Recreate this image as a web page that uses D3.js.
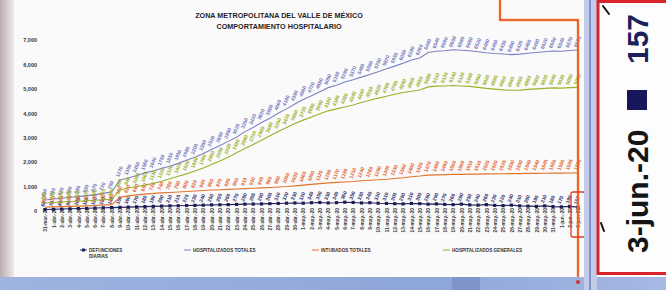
<!DOCTYPE html>
<html>
<head>
<meta charset="utf-8">
<script src="https://cdn.jsdelivr.net/npm/d3@7"></script>
<style>
    body { margin: 0; background: #fff; }
    svg { display: block; font-family: "Liberation Sans", Arial, sans-serif; }
</style>
</head>
<body>
<div id="chart"></div>
<script>
const dim = {
    width: 666,
    height: 290
}

// data
const dates = [
    '31-mar.-20',
    '1-abr.-20','2-abr.-20','3-abr.-20','4-abr.-20','5-abr.-20','6-abr.-20','7-abr.-20','8-abr.-20','9-abr.-20','10-abr.-20',
    '11-abr.-20','12-abr.-20','13-abr.-20','14-abr.-20','15-abr.-20','16-abr.-20','17-abr.-20','18-abr.-20','19-abr.-20','20-abr.-20',
    '21-abr.-20','22-abr.-20','23-abr.-20','24-abr.-20','25-abr.-20','26-abr.-20','27-abr.-20','28-abr.-20','29-abr.-20','30-abr.-20',
    '1-may.-20','2-may.-20','3-may.-20','4-may.-20','5-may.-20','6-may.-20','7-may.-20','8-may.-20','9-may.-20','10-may.-20',
    '11-may.-20','12-may.-20','13-may.-20','14-may.-20','15-may.-20','16-may.-20','17-may.-20','18-may.-20','19-may.-20','20-may.-20',
    '21-may.-20','22-may.-20','23-may.-20','24-may.-20','25-may.-20','26-may.-20','27-may.-20','28-may.-20','29-may.-20','30-may.-20',
    '31-may.-20','1-jun.-20','2-jun.-20','3-jun.-20'
]

const hospTotales = [
    450, 490, 520, 560, 590, 630, 670, 720, 780, 1270,
    1350, 1450, 1560, 1640, 1750, 1830, 1950, 2080, 2200, 2350,
    2520, 2680, 2850, 3020, 3250, 3420, 3620, 3800, 4000, 4180,
    4380, 4560, 4720, 4880, 5050, 5150, 5280, 5370, 5480, 5590,
    5700, 5820, 5930, 6050, 6180, 6260, 6490, 6540, 6560, 6600,
    6580, 6560, 6520, 6480, 6450, 6430, 6400, 6420, 6460, 6490,
    6520, 6550, 6540, 6570, 6590
]

const hospGenerales = [
    330, 350, 370, 390, 400, 420, 440, 460, 480, 860,
    940, 1000, 1060, 1130, 1220, 1320, 1420, 1520, 1640, 1760,
    1900, 2050, 2200, 2380, 2560, 2720, 2900, 3080, 3250, 3420,
    3580, 3720, 3850, 3980, 4100, 4180, 4260, 4340, 4440, 4530,
    4620, 4700, 4780, 4850, 4900, 4950, 5080, 5110, 5120, 5140,
    5120, 5100, 5060, 5020, 4990, 4960, 4940, 4950, 4980, 5000,
    5020, 5040, 5030, 5050, 5060
]

const intubados = [
    160, 170, 180, 190, 200, 210, 225, 240, 260, 560,
    620, 660, 690, 720, 740, 760, 780, 800, 820, 840,
    860, 870, 885, 900, 915, 930, 945, 960, 980, 1000,
    1030, 1060, 1090, 1120, 1150, 1170, 1190, 1210, 1240, 1260,
    1280, 1300, 1330, 1360, 1400, 1430, 1470, 1480, 1490, 1500,
    1500, 1510, 1510, 1520, 1520, 1525, 1530, 1530, 1540, 1540,
    1545, 1550, 1550, 1555, 1560
]

const defunciones = [
    60, 70, 80, 90, 100, 110, 120, 130, 140, 150,
    160, 170, 180, 190, 200, 210, 215, 225, 230, 240,
    250, 255, 260, 270, 280, 285, 290, 300, 310, 320,
    330, 320, 340, 350, 330, 340, 360, 350, 330, 340,
    320, 310, 300, 290, 310, 300, 280, 290, 270, 260,
    280, 250, 240, 260, 230, 220, 240, 210, 200, 190,
    210, 180, 170, 190, 157
]

const yTicks = [0, 1000, 2000, 3000, 4000, 5000, 6000, 7000]

const titleLines = ['ZONA METROPOLITANA DEL VALLE DE MÉXICO', 'COMPORTAMIENTO HOSPITALARIO']

const legendLabels = [
    ['DEFUNCIONES', 'DIARIAS'],
    ['HOSPITALIZADOS TOTALES'],
    ['INTUBADOS TOTALES'],
    ['HOSPITALIZADOS GENERALES']
]

const calloutDate = '3-jun.-20'
const calloutValue = 157

const series = [
    {key: 'defunciones', values: defunciones, color: '#24245e', label: '#2a2a6a'},
    {key: 'totales', values: hospTotales, color: '#7d80c6', label: '#6f72bb'},
    {key: 'intubados', values: intubados, color: '#e2742c', label: '#e0602e'},
    {key: 'generales', values: hospGenerales, color: '#98b22a', label: '#93ad22'}
]

const svg = d3.select('#chart')
    .append('svg')
        .attr('width', dim.width)
        .attr('height', dim.height)

const defs = svg.append('defs')
const shade = defs.append('linearGradient').attr('id', 'shade')
shade.append('stop').attr('offset', 0).attr('stop-color', '#b8adae')
shade.append('stop').attr('offset', 1).attr('stop-color', '#efeaea')
const band = defs.append('linearGradient').attr('id', 'band')
band.append('stop').attr('offset', 0).attr('stop-color', '#9fb3df')
band.append('stop').attr('offset', 0.65).attr('stop-color', '#8ea6d8')
band.append('stop').attr('offset', 1).attr('stop-color', '#a7b9e4')

// paper
svg.append('rect')
    .attr('width', dim.width)
    .attr('height', dim.height)
    .attr('fill', '#fbfafa')
svg.append('rect')
    .attr('width', 14)
    .attr('height', dim.height)
    .attr('fill', 'url(#shade)')

// scales
const xScale = d3.scalePoint()
    .domain(dates)
    .range([45, 578])

const yScale = d3.scaleLinear()
    .domain([0, 7000])
    .range([211, 40])

// title
svg.append('g')
    .selectAll('text')
    .data(titleLines)
    .join('text')
        .attr('x', 279)
        .attr('y', (d, i) => 18 + i * 11)
        .attr('text-anchor', 'middle')
        .attr('font-size', 7.2)
        .attr('font-weight', 'bold')
        .attr('fill', '#1e1e1e')
        .text(d => d)

// y axis
const yAxis = svg.append('g')
    .attr('transform', 'translate(38,0)')
    .call(d3.axisLeft(yScale).tickValues(yTicks).tickSize(0).tickPadding(1))
yAxis.select('.domain').remove()
yAxis.selectAll('text')
    .attr('font-size', 5.5)
    .attr('font-weight', 'bold')
    .attr('fill', '#333')

// x labels, vertical, hanging below the baseline
const xAxis = svg.append('g')
    .attr('transform', 'translate(0,208)')
    .call(d3.axisBottom(xScale).tickSize(0).tickPadding(0))
xAxis.select('.domain').remove()
xAxis.selectAll('text')
    .attr('x', 0)
    .attr('y', 0)
    .attr('dy', '0.35em')
    .attr('font-size', 4.8)
    .attr('font-weight', 'bold')
    .attr('fill', '#3a3a3a')
    .attr('text-anchor', 'end')
    .attr('transform', 'rotate(-90)')

// lines
const line = d3.line()
    .x((d, i) => xScale(dates[i]))
    .y(d => yScale(d))

const seriesG = svg.append('g')
    .selectAll('g')
    .data(series)
    .join('g')

seriesG.append('path')
    .attr('d', d => line(d.values))
    .attr('fill', 'none')
    .attr('stroke', d => d.color)
    .attr('stroke-width', 1.1)

// markers for the daily series
seriesG.filter(d => d.key === 'defunciones')
    .selectAll('rect')
    .data(d => d.values)
    .join('rect')
        .attr('x', (d, i) => xScale(dates[i]) - 1.6)
        .attr('y', d => yScale(d) - 1.6)
        .attr('width', 3.2)
        .attr('height', 3.2)
        .attr('fill', '#1d1d55')

// data labels
seriesG.selectAll('text')
    .data(d => d.values.map((v, i) => ({v, i, color: d.label})))
    .join('text')
        .attr('transform', d => `translate(${xScale(dates[d.i]) - 1},${yScale(d.v) - 2.5}) rotate(-68)`)
        .attr('font-size', 5)
        .attr('font-weight', 'bold')
        .attr('fill', d => d.color)
        .text(d => d.v)

// legend
const legendX = [80, 184, 312, 443]
const legend = svg.append('g')
    .selectAll('g')
    .data(series)
    .join('g')
        .attr('transform', (d, i) => `translate(${legendX[i]},250)`)

legend.append('line')
    .attr('x1', 0)
    .attr('x2', 7)
    .attr('stroke', d => d.color)
    .attr('stroke-width', 1)
legend.filter(d => d.key === 'defunciones')
    .append('rect')
        .attr('x', 2)
        .attr('y', -1.5)
        .attr('width', 3)
        .attr('height', 3)
        .attr('fill', d => d.color)

legend.selectAll('text')
    .data((d, i) => legendLabels[i])
    .join('text')
        .attr('x', 9)
        .attr('y', (d, i) => 2 + i * 6)
        .attr('font-size', 4.6)
        .attr('font-weight', 'bold')
        .attr('fill', '#333')
        .text(d => d)

// callout frame
const lastX = xScale(dates[dates.length - 1])
svg.append('path')
    .attr('d', `M500,0 V20 H${lastX} V282`)
    .attr('fill', 'none')
    .attr('stroke', '#f08a2e')
    .attr('stroke-width', 2.4)
svg.append('path')
    .attr('d', `M500,0 V20 H${lastX} V282`)
    .attr('fill', 'none')
    .attr('stroke', '#e4412a')
    .attr('stroke-width', 1)
svg.append('rect')
    .attr('x', lastX - 7)
    .attr('y', 192)
    .attr('width', 14)
    .attr('height', 45)
    .attr('rx', 2)
    .attr('fill', 'none')
    .attr('stroke', '#e33b24')
    .attr('stroke-width', 1.3)
svg.append('line')
    .attr('x1', lastX + 7)
    .attr('x2', 598)
    .attr('y1', 212)
    .attr('y2', 212)
    .attr('stroke', '#e33b24')
    .attr('stroke-width', 1.2)

// bottom band and edge strip
svg.append('rect')
    .attr('x', 0)
    .attr('y', 277)
    .attr('width', dim.width)
    .attr('height', 13)
    .attr('fill', 'url(#band)')
svg.append('rect')
    .attr('x', 452)
    .attr('y', 277)
    .attr('width', 28)
    .attr('height', 13)
    .attr('fill', '#7f95c9')
svg.append('rect')
    .attr('x', 584)
    .attr('y', 0)
    .attr('width', 13)
    .attr('height', dim.height)
    .attr('fill', '#c4cbe9')
svg.append('line')
    .attr('x1', 590)
    .attr('x2', 590)
    .attr('y1', 0)
    .attr('y2', dim.height)
    .attr('stroke', '#6e7fc6')
    .attr('stroke-width', 1.5)
svg.append('circle')
    .attr('cx', lastX)
    .attr('cy', 282)
    .attr('r', 2)
    .attr('fill', '#d8302a')

// value box
svg.append('rect')
    .attr('x', 598)
    .attr('y', 1.5)
    .attr('width', 90)
    .attr('height', 272)
    .attr('fill', '#fdfdfd')
    .attr('stroke', '#d8222c')
    .attr('stroke-width', 3)

svg.append('text')
    .attr('transform', 'translate(648,253) rotate(-90)')
    .attr('font-size', 30)
    .attr('font-weight', 'bold')
    .attr('fill', '#141414')
    .text(calloutDate)
svg.append('rect')
    .attr('x', 627)
    .attr('y', 90)
    .attr('width', 20)
    .attr('height', 20)
    .attr('fill', '#17175a')
svg.append('text')
    .attr('transform', 'translate(648,64) rotate(-90)')
    .attr('font-size', 30)
    .attr('font-weight', 'bold')
    .attr('fill', '#1b1f5c')
    .text(calloutValue)

// specks printed on the page
svg.append('path')
    .attr('d', 'M603,6 L609,14 M601,223 L604,231')
    .attr('stroke', '#111')
    .attr('stroke-width', 2)
    .attr('stroke-linecap', 'round')
</script>
</body>
</html>
